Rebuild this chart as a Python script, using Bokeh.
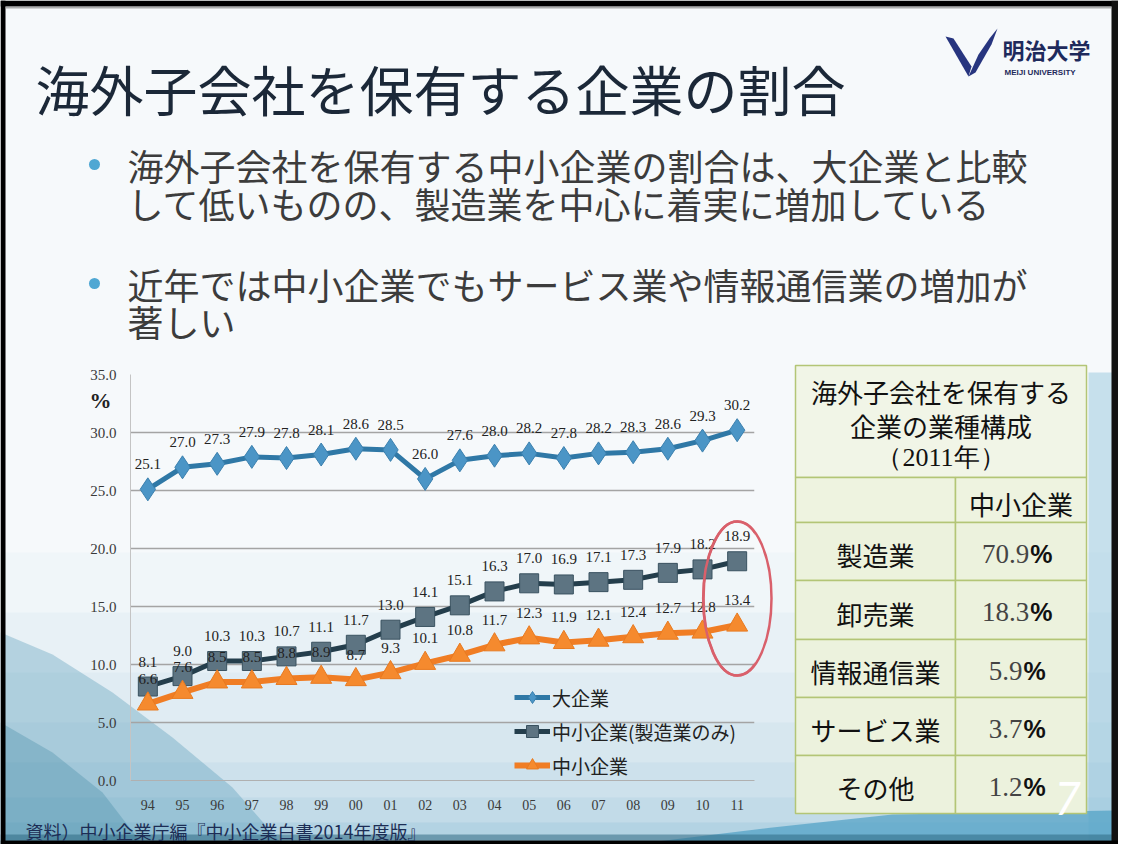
import numpy as np
from bokeh.plotting import figure
from bokeh.layouts import column
from bokeh.models import (Range1d, FactorRange, FixedTicker, NumeralTickFormatter,
                          Legend, LegendItem, ColumnDataSource, GridBox)
from bokeh.core.properties import value
from bokeh.embed import file_html
from bokeh.resources import INLINE

# ---------------- data ----------------
years = ["94", "95", "96", "97", "98", "99", "00", "01", "02", "03",
         "04", "05", "06", "07", "08", "09", "10", "11"]
large = [25.1, 27.0, 27.3, 27.9, 27.8, 28.1, 28.6, 28.5, 26.0, 27.6,
         28.0, 28.2, 27.8, 28.2, 28.3, 28.6, 29.3, 30.2]
sme_mfg = [8.1, 9.0, 10.3, 10.3, 10.7, 11.1, 11.7, 13.0, 14.1, 15.1,
           16.3, 17.0, 16.9, 17.1, 17.3, 17.9, 18.2, 18.9]
sme = [6.6, 7.6, 8.5, 8.5, 8.8, 8.9, 8.7, 9.3, 10.1, 10.8,
       11.7, 12.3, 11.9, 12.1, 12.4, 12.7, 12.8, 13.4]
series_names = ["大企業", "中小企業(製造業のみ)", "中小企業"]
y_ticks = [0, 5, 10, 15, 20, 25, 30, 35]

slide_title = "海外子会社を保有する企業の割合"
bullet_lines = [["海外子会社を保有する中小企業の割合は、大企業と比較",
                 "して低いものの、製造業を中心に着実に増加している"],
                ["近年では中小企業でもサービス業や情報通信業の増加が",
                 "著しい"]]
source_note = "資料）中小企業庁編『中小企業白書2014年度版』"
page_no = "7"

table_title = ["海外子会社を保有する", "企業の業種構成", "（2011年）"]
table_col = "中小企業"
industries = ["製造業", "卸売業", "情報通信業", "サービス業", "その他"]
shares = [70.9, 18.3, 5.9, 3.7, 1.2]

# ---------------- geometry ----------------
W, H = 1118, 844
OFF = 8
FRAME_L, FRAME_R, FRAME_T, FRAME_B = 138, 762, 382, 788   # image px of chart frame
JP = "Noto Sans CJK JP"
SERIF = "Liberation Serif"

def cx(ix):
    return ix - OFF

def cy(iy):
    return iy - OFF

# =============== background (slide) figure: pixel coordinates ===============
bg = figure(width=W, height=H, x_range=Range1d(0, W), y_range=Range1d(H, 0),
            output_backend="svg", toolbar_location=None, min_border=0,
            x_axis_location=None, y_axis_location=None, title=None)
bg.grid.visible = False
bg.outline_line_color = None
bg.border_fill_color = "#f6f9fb"
bg.background_fill_color = "#f6f9fb"

def rect(x0, y0, x1, y1, fill, alpha=1.0, line=None, lw=1.0):
    bg.quad(left=[cx(x0)], right=[cx(x1)], top=[cy(y0)], bottom=[cy(y1)],
            fill_color=fill, fill_alpha=alpha, line_color=line, line_width=lw)

def patch(pts, fill, alpha=1.0):
    bg.patch([cx(x) for x, _ in pts], [cy(y) for _, y in pts],
             fill_color=fill, fill_alpha=alpha, line_color=None)

def txt(ix, iy, s, size, color="#222222", font=JP, align="left", style="normal"):
    bg.text(x=[cx(ix)], y=[cy(iy)], text=[s], text_font=value(font),
            text_font_size=f"{size}px", text_color=color, text_align=align,
            text_baseline="middle", text_font_style=style)

# soft blue gradient towards the bottom
for top, a in [(560, 0.04), (620, 0.05), (680, 0.06), (730, 0.07), (770, 0.08),
               (805, 0.10), (830, 0.14)]:
    rect(8, top, 1126, 852, "#5fa6c6", a)
# teal wave on the lower left
patch([(8, 640), (60, 662), (120, 700), (180, 745), (240, 795), (290, 852), (8, 852)],
      "#3d8cab", 0.30)
patch([(8, 730), (60, 760), (110, 800), (150, 852), (8, 852)], "#2d7c9c", 0.28)
# light blue on the right edge / bottom right
rect(1096, 380, 1122, 852, "#8cc2da", 0.45)
patch([(640, 852), (780, 835), (900, 822), (1122, 818), (1122, 852)], "#4f9fc4", 0.70)
# bottom slide edge shading
rect(8, 842, 1126, 848, "#2f6a84", 0.55)

# slide frame
rect(8, 8, 13, 852, "#000000")
rect(8, 8, 1126, 14, "#000000")
rect(1119, 8, 1126, 852, "#111111")
rect(8, 848, 1126, 852, "#000000")
rect(13, 14, 1119, 16, "#9a9a9a", 0.8)

# title / bullets
txt(43, 96, slide_title, 54, color="#1b2838")
bullet_y = [(172, 210), (291, 328)]
for (y1, y2), lines in zip(bullet_y, bullet_lines):
    bg.scatter([cx(102)], [cy(y1)], size=11, marker="circle",
               fill_color="#4fa7d3", line_color=None)
    txt(135, y1, lines[0], 36, color="#3c3c3c")
    txt(135, y2, lines[1], 36, color="#3c3c3c")

# logo
patch([(953, 44), (961, 46), (979, 74), (976, 84)], "#27357f")
patch([(976, 84), (986, 62), (997, 46), (1005, 36), (999, 52), (983, 80)], "#27357f")
txt(1010, 56, "明治大学", 22, color="#1e2a5c", style="bold")
txt(1012, 80, "MEIJI UNIVERSITY", 8, color="#1e2a5c", font="Liberation Sans", style="bold")

# chart decorations that sit outside the plotting frame
txt(108, 408, "%", 22, color="#222222", font=SERIF, align="center", style="bold")
txt(33, 838, source_note, 18, color="#1c2d55")

# table
TL, TR, TM, TT = 803, 1094, 963, 373
row_edges = [485, 530, 588, 647, 705, 763, 821]
GRID = "#b3c576"
rect(TL, TT, TR, row_edges[0], "#f1f5e7", line=GRID, lw=1.5)
rect(TL, row_edges[0], TM, row_edges[1], "#eef3e0", line=GRID, lw=1.5)
rect(TM, row_edges[0], TR, row_edges[1], "#eef3e0", line=GRID, lw=1.5)
for i in range(len(industries)):
    rect(TL, row_edges[i + 1], TM, row_edges[i + 2], "#ecf2dd", line=GRID, lw=1.5)
    rect(TM, row_edges[i + 1], TR, row_edges[i + 2], "#ecf2dd", line=GRID, lw=1.5)

tcx = (TL + TR) / 2
for yy, s in zip([399, 433, 465], table_title):
    txt(tcx, yy, s, 26, color="#111111", align="center",
        font=SERIF if s.startswith("（") else JP)
txt((TM + TR) / 2, 511, table_col, 26, color="#111111", align="center")

FS = 27
for i, (name, v) in enumerate(zip(industries, shares)):
    yc = (row_edges[i + 1] + row_edges[i + 2]) / 2 + 3
    txt((TL + TM) / 2, yc, name, 26, color="#111111", align="center")
    num = f"{v:.1f}"
    w_num = (len(num) - 1) * 0.5 * FS + 0.25 * FS
    w_pct = 23
    split = (TM + TR) / 2 - 4 - (w_num + w_pct) / 2 + w_num
    txt(split, yc - 1, num, FS, color="#444444", font=SERIF, align="right")
    txt(split + 1, yc - 1, "%", 25, color="#111111", font="Liberation Sans", style="bold")

txt(1075, 806, page_no, 46, color="#ffffff", font="Lato", align="center", style="italic")

# full red ellipse (the chart frame clips its right edge)
ELL_X, ELL_Y, ELL_W, ELL_H = 745, 606, 68, 154
bg.ellipse(x=[cx(ELL_X)], y=[cy(ELL_Y)], width=ELL_W, height=ELL_H,
           width_units="screen", height_units="screen",
           fill_alpha=0, line_color="#d9606b", line_width=2.5)

# =============== chart figure (transparent, overlaid) ===============
p = figure(width=W, height=H, x_range=FactorRange(factors=years, range_padding=0),
           y_range=Range1d(0, 35), output_backend="svg", toolbar_location=None,
           min_border_left=FRAME_L - OFF, min_border_right=W - (FRAME_R - OFF),
           min_border_top=FRAME_T - OFF, min_border_bottom=H - (FRAME_B - OFF),
           title=None)
p.border_fill_alpha = 0.0
p.background_fill_alpha = 0.0
p.outline_line_color = None

p.ygrid.grid_line_color = "#a4a4a4"
p.ygrid.grid_line_width = 1.5
p.xgrid.grid_line_color = None
p.yaxis.ticker = FixedTicker(ticks=y_ticks)
p.yaxis.formatter = NumeralTickFormatter(format="0.0")
p.yaxis.major_label_text_font = SERIF
p.yaxis.major_label_text_font_size = "15px"
p.yaxis.major_label_text_color = "#3a3a3a"
p.yaxis.axis_line_color = "#c4c4c4"
p.yaxis.major_tick_line_color = None
p.yaxis.minor_tick_line_color = None
p.yaxis.major_label_standoff = 8
p.xaxis.major_label_text_font = SERIF
p.xaxis.major_label_text_font_size = "14px"
p.xaxis.major_label_text_color = "#3a3a3a"
p.xaxis.axis_line_color = "#b0b0b0"
p.xaxis.major_tick_line_color = None
p.xaxis.major_label_standoff = 13

src = ColumnDataSource(dict(
    x=years, large=large, mfg=sme_mfg, sme=sme,
    large_lbl=[f"{v:.1f}" for v in large],
    mfg_lbl=[f"{v:.1f}" for v in sme_mfg],
    sme_lbl=[f"{v:.1f}" for v in sme],
))

l1 = p.line("x", "large", source=src, line_color="#2f78a6", line_width=5)
m1 = p.scatter("x", "large", source=src, marker="diamond", size=23,
               fill_color="#4b95c6", line_color="#3b80ae", line_width=1)
l2 = p.line("x", "mfg", source=src, line_color="#243e4c", line_width=5)
m2 = p.scatter("x", "mfg", source=src, marker="square", size=19,
               fill_color="#5d7482", line_color="#3a5260", line_width=1)
l3 = p.line("x", "sme", source=src, line_color="#f07d24", line_width=6)
m3 = p.scatter("x", "sme", source=src, marker="triangle", size=21,
               fill_color="#f58a2e", line_color="#e87a20", line_width=1)

for col, ycol in [("large_lbl", "large"), ("mfg_lbl", "mfg"), ("sme_lbl", "sme")]:
    p.text("x", ycol, text=col, source=src, y_offset=-25, text_align="center",
           text_baseline="middle", text_font=value(SERIF), text_font_size="15px",
           text_color="#222222")

legend = Legend(items=[LegendItem(label=series_names[0], renderers=[l1, m1]),
                       LegendItem(label=series_names[1], renderers=[l2, m2]),
                       LegendItem(label=series_names[2], renderers=[l3, m3])],
                location=(384, 0), orientation="vertical",
                background_fill_alpha=0.0, border_line_color=None,
                label_text_font=JP, label_text_font_size="19px", label_text_color="#222222",
                glyph_width=36, glyph_height=30, label_height=30, spacing=4,
                padding=0, margin=0, label_standoff=2)
p.add_layout(legend)

# red ellipse on top of the series (same geometry as the background one)
p.ellipse(x=[years[-1]], y=[(FRAME_B - ELL_Y) * 35 / (FRAME_B - FRAME_T)],
          width=ELL_W, height=ELL_H, width_units="screen", height_units="screen",
          fill_alpha=0, line_color="#d9606b", line_width=2.5)

layout = GridBox(children=[(column(bg), 0, 0), (column(p), 0, 0)])
open("out.html", "w").write(file_html(layout, INLINE))
